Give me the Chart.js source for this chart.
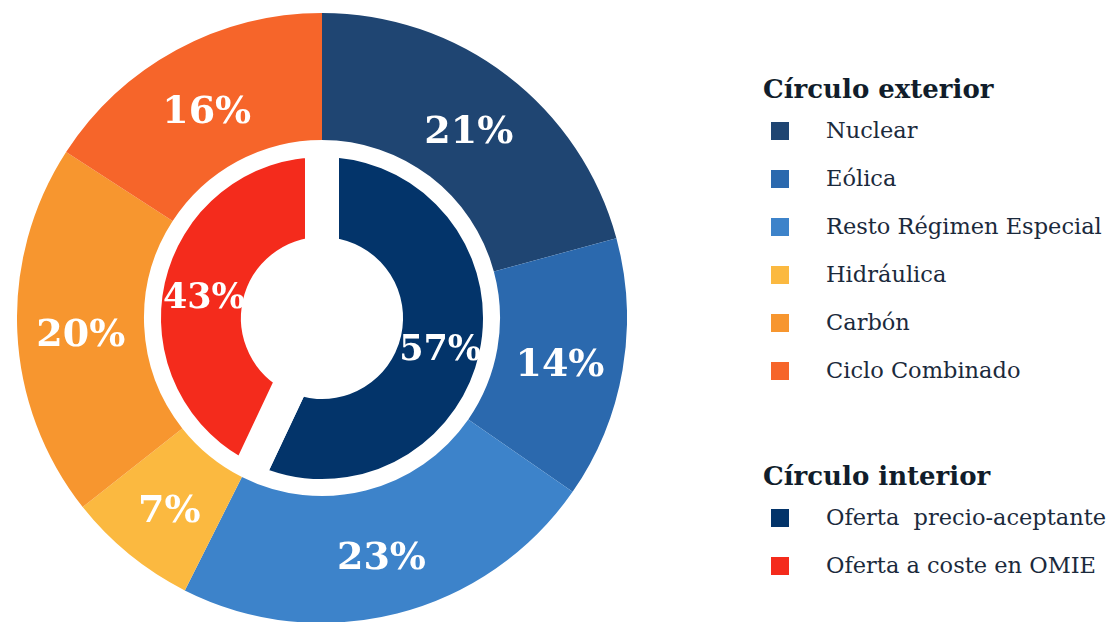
<!DOCTYPE html>
<html lang="es">
<head>
<meta charset="utf-8">
<script src="https://cdn.jsdelivr.net/npm/chart.js@4"></script>
<style>
  html, body { margin: 0; padding: 0; background: #fff; }
  body { width: 1119px; height: 622px; position: relative; overflow: hidden;
         font-family: "DejaVu Serif", serif; color: #1b2a3c; }
  #wrap { position: absolute; left: 17px; top: 13px; width: 610px; height: 610px; }
  .legend { position: absolute; left: 763px; }
  .legend h3 { margin: 0; font-size: 26px; font-weight: bold; color: #111d2b; height: 34px; line-height: 34px; }
  .legend .item { height: 48px; line-height: 48px; font-size: 22.5px; position: relative; padding-left: 63px; white-space: pre; }
  .legend .sw { position: absolute; left: 8px; top: 16px; width: 18px; height: 18px; }
  #outerLegend { top: 72px; }
  #innerLegend { top: 459px; }
</style>
</head>
<body>
<div id="wrap"><canvas id="mix"></canvas></div>
<div class="legend" id="outerLegend"><h3>Círculo exterior</h3></div>
<div class="legend" id="innerLegend"><h3>Círculo interior</h3></div>
<script>
// Outer ring: generation mix; inner ring: how the offer is placed in the market.
const OUTER_LABELS = ["Nuclear", "Eólica", "Resto Régimen Especial", "Hidráulica", "Carbón", "Ciclo Combinado"];
const OUTER_VALUES = [21, 14, 23, 7, 20, 16];
const OUTER_COLORS = ["#1f4572", "#2b69ae", "#3d83ca", "#fbb940", "#f7962f", "#f6652a"];

const INNER_LABELS = ["Oferta  precio-aceptante", "Oferta a coste en OMIE"];
const INNER_VALUES = [57, 43];
const INNER_COLORS = ["#03346a", "#f42b1c"];

function buildLegend(id, labels, colors) {
  const box = document.getElementById(id);
  labels.forEach((text, i) => {
    const row = document.createElement("div");
    row.className = "item";
    row.innerHTML = `<span class="sw" style="background:${colors[i]}"></span>`;
    row.appendChild(document.createTextNode(text));
    box.appendChild(row);
  });
}
buildLegend("outerLegend", OUTER_LABELS, OUTER_COLORS);
buildLegend("innerLegend", INNER_LABELS, INNER_COLORS);

// White percentage labels near each arc's centroid (nudged down a little, as in the original).
const percentLabels = {
  id: "percentLabels",
  afterDatasetsDraw(chart) {
    const ctx = chart.ctx;
    ctx.save();
    ctx.fillStyle = "#ffffff";
    ctx.textAlign = "center";
    ctx.textBaseline = "middle";
    chart.data.datasets.forEach((ds, di) => {
      ctx.font = `bold ${ds.labelSize}px 'DejaVu Serif', serif`;
      chart.getDatasetMeta(di).data.forEach((arc, i) => {
        const p = arc.tooltipPosition();
        ctx.fillText(`${ds.data[i]}%`, p.x, p.y + 7);
      });
    });
    ctx.restore();
  }
};

new Chart(document.getElementById("mix"), {
  type: "doughnut",
  data: {
    labels: OUTER_LABELS,
    datasets: [
      {
        data: OUTER_VALUES,
        backgroundColor: OUTER_COLORS,
        borderWidth: 0,
        hoverBorderWidth: 0,
        hoverOffset: 0,
        weight: 127,
        labelSize: 38
      },
      {
        data: INNER_VALUES,
        backgroundColor: INNER_COLORS,
        borderColor: "#ffffff",
        borderWidth: 34,
        hoverBorderWidth: 34,
        hoverOffset: 0,
        weight: 114,
        labelSize: 35
      }
    ]
  },
  options: {
    responsive: true,
    maintainAspectRatio: false,
    animation: false,
    events: [],
    cutout: "21%",
    layout: { padding: 0 },
    plugins: { legend: { display: false }, tooltip: { enabled: false } }
  },
  plugins: [percentLabels]
});
</script>
</body>
</html>
